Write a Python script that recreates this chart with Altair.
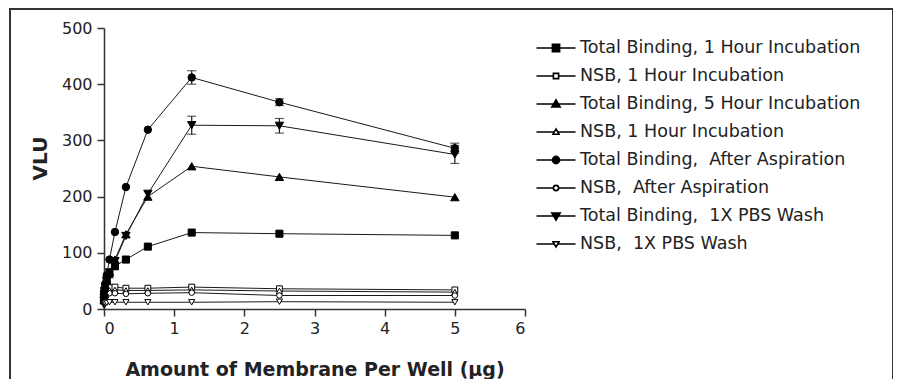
import json
import altair as alt
import pandas as pd

# ---- data ----
x_vals = [0.0012, 0.0024, 0.0049, 0.0098, 0.0195, 0.039, 0.078, 0.156, 0.3125, 0.625, 1.25, 2.5, 5.0]

tb_1h   = [15, 20, 26, 32, 40, 50, 62, 76, 88, 111, 136, 134, 131]
nsb_1h  = [20, 24, 28, 30, 33, 36, 38, 39, 37, 37, 39, 36, 34]
tb_5h   = [16, 21, 27, 34, 42, 52, 66, 88, 133, 200, 254, 235, 199]
nsb_5h  = [15, 19, 22, 25, 28, 31, 33, 34, 33, 33, 34, 32, 30]
tb_asp  = [18, 24, 30, 36, 45, 60, 88, 137, 217, 319, 412, 368, 286]
nsb_asp = [13, 16, 19, 21, 24, 26, 28, 28, 27, 28, 29, 24, 24]
tb_pbs  = [15, 20, 26, 32, 40, 50, 65, 85, 130, 205, 327, 326, 275]
nsb_pbs = [6, 8, 9, 9, 10, 11, 12, 12, 12, 12, 12, 13, 12]

err_x = [1.25, 2.5, 5.0]
asp_mean = [412, 368, 286]
asp_err = [12, 6, 9]
pbs_mean = [327, 326, 275]
pbs_err = [16, 13, 16]

ids = ["tb1", "nsb1", "tb5", "nsb5", "tba", "nsba", "tbp", "nsbp"]
labels = [
    "Total Binding, 1 Hour Incubation",
    "NSB, 1 Hour Incubation",
    "Total Binding, 5 Hour Incubation",
    "NSB, 1 Hour Incubation",
    "Total Binding,\u00a0 After Aspiration",
    "NSB,\u00a0 After Aspiration",
    "Total Binding,\u00a0 1X PBS Wash",
    "NSB,\u00a0 1X PBS Wash",
]
series_vals = [tb_1h, nsb_1h, tb_5h, nsb_5h, tb_asp, nsb_asp, tb_pbs, nsb_pbs]

# ---- styling ----
shapes = ["square", "square", "triangle-up", "triangle-up",
          "circle", "circle", "triangle-down", "triangle-down"]
filled = [True, False, True, False, True, False, True, False]
sizes = [50, 34, 70, 40, 55, 30, 70, 38]

# legend symbols: a line with the marker in the middle
leg_paths = [
    "M-1.95,0H1.95M-0.36,-0.36H0.36V0.36H-0.36Z",
    "M-1.95,0H-0.26M0.26,0H1.95M-0.26,-0.26H0.26V0.26H-0.26Z",
    "M-1.95,0H1.95M0,-0.42L0.42,0.3L-0.42,0.3Z",
    "M-1.95,0H-0.2M0.2,0H1.95M0,-0.3L0.3,0.22L-0.3,0.22Z",
    "M-1.95,0H1.95M-0.36,0A0.36,0.36 0 1,0 0.36,0A0.36,0.36 0 1,0 -0.36,0Z",
    "M-1.95,0H-0.26M0.26,0H1.95M-0.26,0A0.26,0.26 0 1,0 0.26,0A0.26,0.26 0 1,0 -0.26,0Z",
    "M-1.95,0H1.95M0,0.42L0.42,-0.3L-0.42,-0.3Z",
    "M-1.95,0H-0.2M0.2,0H1.95M0,0.3L0.3,-0.22L-0.3,-0.22Z",
]
fills = ["black" if f else "white" for f in filled]
strokes = ["black"] * len(ids)

rows = []
for sid, vals in zip(ids, series_vals):
    for xv, yv in zip(x_vals, vals):
        rows.append({"series": sid, "x": xv, "y": yv})
df = pd.DataFrame(rows)

err_rows = []
for xv, m, e in zip(err_x, asp_mean, asp_err):
    err_rows.append({"x": xv, "lo": m - e, "hi": m + e})
for xv, m, e in zip(err_x, pbs_mean, pbs_err):
    err_rows.append({"x": xv, "lo": m - e, "hi": m + e})
edf = pd.DataFrame(err_rows)

FONT = "DejaVu Sans"
TXT = "#222222"
AX = "#333333"

xscale = alt.Scale(domain=[0, 6], nice=False, zero=True)
yscale = alt.Scale(domain=[0, 500], nice=False)

xaxis = alt.Axis(values=[0, 1, 2, 3, 4, 5, 6], format="d",
                 title="Amount of Membrane Per Well (\u03bcg)",
                 titleFont=FONT, titleFontSize=19, titleFontWeight="bold",
                 titleColor=TXT, titleBaseline="alphabetic", titleY=66,
                 labelFont=FONT, labelFontSize=16, labelColor=TXT,
                 labelPadding=4, tickSize=7, tickColor=AX, tickWidth=1.5,
                 domainColor=AX, domainWidth=1.5, grid=False)
yaxis = alt.Axis(values=[0, 100, 200, 300, 400, 500],
                 title="VLU", titleFont=FONT, titleFontSize=20,
                 titleFontWeight="bold", titleColor=TXT, titleAngle=270,
                 titleAlign="center", titleBaseline="alphabetic",
                 titleX=-58, titleY=130,
                 labelFont=FONT, labelFontSize=16, labelColor=TXT,
                 labelPadding=5, tickSize=7, tickColor=AX, tickWidth=1.5,
                 domainColor=AX, domainWidth=1.5, grid=False)

base = alt.Chart(df)

lines = base.mark_line(color="#1a1a1a", strokeWidth=1).encode(
    x=alt.X("x:Q", scale=xscale, axis=xaxis),
    y=alt.Y("y:Q", scale=yscale, axis=yaxis),
    detail="series:N",
)

ebase = alt.Chart(edf)
erule = ebase.mark_rule(color="#1a1a1a", strokeWidth=1.2).encode(
    x="x:Q", y="lo:Q", y2="hi:Q")
ecap_lo = ebase.mark_tick(orient="horizontal", color="#1a1a1a", thickness=1.2, size=9).encode(
    x="x:Q", y="lo:Q")
ecap_hi = ebase.mark_tick(orient="horizontal", color="#1a1a1a", thickness=1.2, size=9).encode(
    x="x:Q", y="hi:Q")

point_layers = []
for sid, shp, fc, sz in zip(ids, shapes, fills, sizes):
    point_layers.append(
        base.transform_filter(alt.datum.series == sid).mark_point(
            shape=shp, filled=True, fill=fc, stroke="black",
            strokeWidth=1, size=sz, opacity=1
        ).encode(x="x:Q", y="y:Q")
    )

label_expr = "[" + ",".join(json.dumps(l, ensure_ascii=False) for l in labels) + \
    "][indexof([" + ",".join(json.dumps(i) for i in ids) + "], datum.value)]"

legend = alt.Legend(orient="none", legendX=441, legendY=9, title=None,
                    labelFont=FONT, labelFontSize=17.5, labelColor=TXT,
                    labelLimit=500, labelOffset=13, symbolSize=400,
                    symbolStrokeWidth=1.6,
                    symbolOpacity=1, rowPadding=8, labelExpr=label_expr)

legend_layer = base.mark_point(opacity=0, size=400, filled=False, strokeWidth=1.6).encode(
    x="x:Q", y="y:Q",
    shape=alt.Shape("series:N", scale=alt.Scale(domain=ids, range=leg_paths), legend=legend),
    fill=alt.Fill("series:N", scale=alt.Scale(domain=ids, range=fills), legend=legend),
    stroke=alt.Stroke("series:N", scale=alt.Scale(domain=ids, range=strokes), legend=legend),
)

frame = alt.Chart(pd.DataFrame({"a": [0]})).mark_rect(
    filled=False, stroke="#333333", strokeWidth=2
).encode(x=alt.value(-94), x2=alt.value(789), y=alt.value(-19), y2=alt.value(420))

chart = alt.layer(frame, lines, erule, ecap_lo, ecap_hi, *point_layers, legend_layer).properties(
    width=421, height=281,
    autosize=alt.AutoSizeParams(type="none"),
    padding={"left": 96, "top": 20, "right": 368, "bottom": 70},
    background="white",
).configure_view(stroke=None)

chart.save("out.html", embed_options={"renderer": "svg", "actions": False})
